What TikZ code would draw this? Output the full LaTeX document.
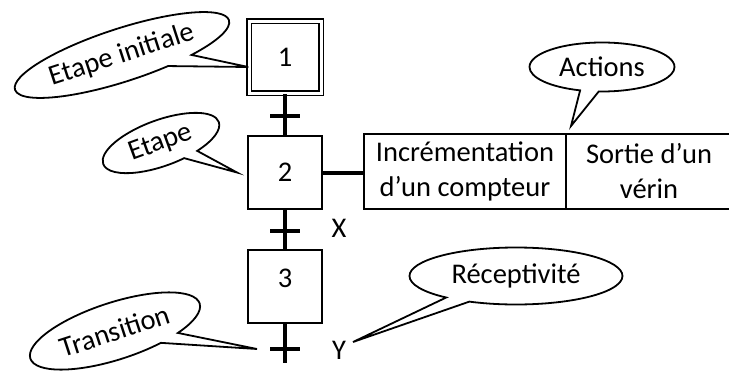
\documentclass[tikz,border=0pt]{standalone}
\usepackage{fontspec}
\setmainfont{Carlito}
\usetikzlibrary{shapes.callouts}
\usetikzlibrary{positioning}

\tikzset{
 etape/.style={draw,line width=2pt,minimum width=74pt,minimum height=73pt,inner sep=0pt},
 action/.style={draw,line width=2pt,minimum height=75pt,align=center,inner sep=0pt},
 bulle/.style={ellipse callout,draw,line width=1.8pt,fill=white,inner sep=0pt},
 liaison/.style={line width=4pt},
 barre/.style={line width=4pt}
}

\begin{document}
\begin{tikzpicture}[x=1pt,y=-1pt,font=\fontsize{28.5}{35}\selectfont]
\useasboundingbox (0,0) rectangle (729,372);
% etapes
 \node[etape,double,double distance=3pt,line width=1.5pt,minimum width=72pt,minimum height=72pt] (e1) at (285,57) {1};
 \node[etape] (e2) at (285,172.5) {2};
 \node[etape,text depth=16pt] (e3) at (285,286) {3};
% liaisons
 \draw[liaison] (e1.south) -- (e2.north);
 \draw[liaison] (e2.south) -- (e3.north);
 \coordinate (fin) at (285,363);
 \draw[liaison] (e3.south) -- (fin);
% transitions
 \coordinate (t1) at (285,116);
 \coordinate (t2) at (285,231);
 \coordinate (t3) at (285,349);
 \draw[barre] ([xshift=-15pt]t1) -- ([xshift=15pt]t1);
 \draw[barre] ([xshift=-15pt]t2) -- ([xshift=15pt]t2);
 \draw[barre] ([xshift=-15pt]t3) -- ([xshift=15pt]t3);
 \node (x) at (339,228) {X};
 \node (y) at (339,350) {Y};
% actions
 \node[action,minimum width=202pt] (act1) at (465,171.5) {Incrémentation\\d’un compteur};
 \node[action,minimum width=166pt] (act2) at (649,171.5) {Sortie d’un\\vérin};
 \draw[liaison] (e2.east) -- (e2.east -| act1.west);
% bulles
 \coordinate (p1) at ([yshift=-10pt]e1.west);
 \coordinate (p2) at ([xshift=-10pt]e2.west);
 \coordinate (p3) at ([xshift=-28pt]t3);
 \coordinate (p4) at ([shift={(4pt,7pt)}]act1.north east);
 \coordinate (p5) at ([shift={(14pt,8pt)}]y.center);
 \node[bulle,rotate=18,minimum width=225pt,minimum height=53pt,callout absolute pointer={(p1)}] (b1) at (122,55) {Etape initiale};
 \node[bulle,rotate=20,minimum width=123pt,minimum height=46pt,callout absolute pointer={(p2)}] (b2) at (161,143) {Etape};
 \node[bulle,rotate=18,minimum width=178pt,minimum height=57pt,callout absolute pointer={(p3)}] (b3) at (115,331) {Transition};
 \node[bulle,minimum width=145pt,minimum height=49pt,callout absolute pointer={(p4)}] (b4) at (602,67) {Actions};
 \node[bulle,minimum width=213pt,minimum height=57pt,callout absolute pointer={(p5)}] (b5) at (516,276) {Réceptivité};
\end{tikzpicture}
\end{document}
